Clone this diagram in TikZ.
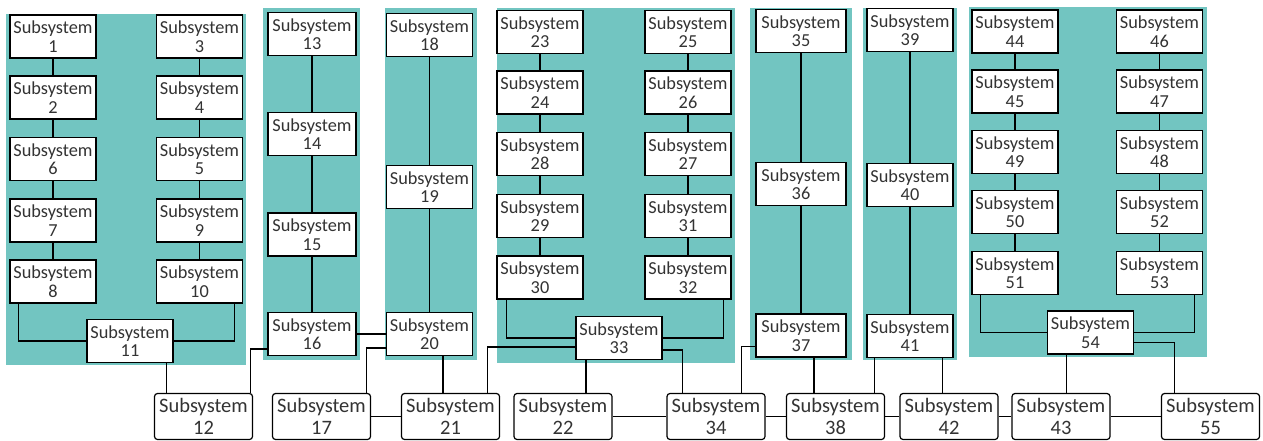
\documentclass[tikz,border=0pt]{standalone}
\usepackage{fontspec}
\setmainfont{Carlito}
\usetikzlibrary{calc}
\definecolor{panelteal}{HTML}{72C5C1}
\definecolor{inkgray}{HTML}{333333}
\tikzset{
  sub/.style={draw=black,line width=1.6pt,fill=white,minimum width=86pt,minimum height=43pt,
    inner sep=0pt,align=center,text=inkgray,font=\fontsize{18.3}{18.5}\selectfont},
  bsub/.style={draw=black,line width=1.2pt,fill=white,rounded corners=3pt,minimum width=98pt,
    minimum height=46pt,inner sep=0pt,align=center,text=inkgray,font=\fontsize{20.5}{21.5}\selectfont},
  panel/.style={fill=panelteal,draw=none},
  link/.style={draw=black,line width=1.1pt}}
\begin{document}
\begin{tikzpicture}[x=1pt,y=-1pt]
\useasboundingbox (0,0) rectangle (1263,441);
% teal groups
\fill[panel] (6,14) rectangle (246,365);
\fill[panel] (263,8) rectangle (360,360);
\fill[panel] (385,8) rectangle (477,360);
\fill[panel] (497,8) rectangle (735,363);
\fill[panel] (750,8) rectangle (852,360);
\fill[panel] (863,8) rectangle (957,360);
\fill[panel] (969,7) rectangle (1207,357);
% group 1
\foreach \n/\yy in {1/36.5,2/97.5,6/159,7/220.5,8/281.5}{\node[sub] (s\n) at (53,\yy) {Subsystem\\\n};}
\foreach \n/\yy in {3/36.5,4/97.5,5/159,9/220.5,10/281.5}{\node[sub] (s\n) at (199.5,\yy) {Subsystem\\\n};}
\node[sub] (s11) at (130,341) {Subsystem\\11};
% groups 2 and 3
\foreach \n/\yy in {13/34,14/134,15/234.5,16/334}{\node[sub,minimum width=88pt] (s\n) at (312,\yy) {Subsystem\\\n};}
\foreach \n/\yy in {18/35,19/187,20/334}{\node[sub] (s\n) at (429.5,\yy) {Subsystem\\\n};}
% group 4
\foreach \n/\yy in {23/32,24/92.5,28/154,29/216,30/277.5}{\node[sub] (s\n) at (540,\yy) {Subsystem\\\n};}
\foreach \n/\yy in {25/32,26/92.5,27/154,31/216,32/277.5}{\node[sub] (s\n) at (688,\yy) {Subsystem\\\n};}
\node[sub] (s33) at (619,338) {Subsystem\\33};
% groups 5 and 6
\foreach \n/\yy in {35/31,36/184,37/335.5}{\node[sub,minimum width=90pt] (s\n) at (801,\yy) {Subsystem\\\n};}
\foreach \n/\yy in {39/30,40/185,41/336}{\node[sub] (s\n) at (910,\yy) {Subsystem\\\n};}
% group 7
\foreach \n/\yy in {44/31.5,45/91.5,49/152,50/212,51/273}{\node[sub] (s\n) at (1015,\yy) {Subsystem\\\n};}
\foreach \n/\yy in {46/31.5,47/91.5,48/152,52/212,53/273}{\node[sub] (s\n) at (1159.5,\yy) {Subsystem\\\n};}
\node[sub] (s54) at (1090.5,332.5) {Subsystem\\54};
% bottom row
\foreach \n/\xx in {12/203.5,17/321.5,21/450.5,22/563,34/716,38/835.5,42/949,43/1061,55/1210.5}{
 \node[bsub] (s\n) at (\xx,416.5) {Subsystem\\\n};}
% chains inside the groups
\foreach \a/\b in {1/2,2/6,6/7,7/8,3/4,4/5,5/9,9/10,13/14,14/15,15/16,18/19,19/20,
  23/24,24/28,28/29,29/30,25/26,26/27,27/31,31/32,35/36,36/37,39/40,40/41,
  44/45,45/49,49/50,50/51,46/47,47/48,48/52,52/53}{
 \draw[link] (s\a)--(s\b);}
\draw[link] ([xshift=9pt]s8.south west) |- (s11.west);
\draw[link] ([xshift=-9pt]s10.south east) |- (s11.east);
\draw[link] ([xshift=10pt]s30.south west) |- (s33.west);
\draw[link] ([xshift=-8pt]s32.south east) |- (s33.east);
\draw[link] ([xshift=9pt]s51.south west) |- (s54.west);
\draw[link] ([xshift=-9pt]s53.south east) |- (s54.east);
% links down to the bottom row
\draw[link] ([xshift=-7pt]s11.south east) -- ([xshift=-7pt]s11.south east |- s12.north);
\draw[link] ([xshift=-2.5pt]s12.north east) |- ([yshift=-15pt]s16.west);
\draw[link] (s16) -- (s20);
\draw[link] ([yshift=-14pt]s20.west) -| ([xshift=-4.5pt]s17.north east);
\draw[link] ([xshift=13.5pt]s20.south) -- ([xshift=13.5pt]s20.south |- s21.north);
\draw[link] ([yshift=-9pt]s33.west) -| ([xshift=-12.5pt]s21.north east);
\draw[link] ([xshift=-33pt]s33.south) -- ([xshift=-33pt]s33.south |- s22.north);
\draw[link] ([yshift=-12pt]s33.east) -| ([xshift=16pt]s34.north west);
\draw[link] ([yshift=-11pt]s37.west) -| ([xshift=-24pt]s34.north east);
\draw[link] ([xshift=13pt]s37.south) -- ([xshift=13pt]s37.south |- s38.north);
\draw[link] ([xshift=8pt]s41.south west) -- ([xshift=8pt]s41.south west |- s38.north);
\draw[link] ([xshift=-11pt]s41.south east) -- ([xshift=-11pt]s41.south east |- s42.north);
\draw[link] ([xshift=-24pt]s54.south) -- ([xshift=-24pt]s54.south |- s43.north);
\draw[link] ([yshift=-10pt]s54.east) -| ([xshift=13.5pt]s55.north west);
\foreach \a/\b in {17/21,22/34,34/38,38/42,42/43,43/55}{\draw[link] (s\a)--(s\b);}
\end{tikzpicture}
\end{document}
